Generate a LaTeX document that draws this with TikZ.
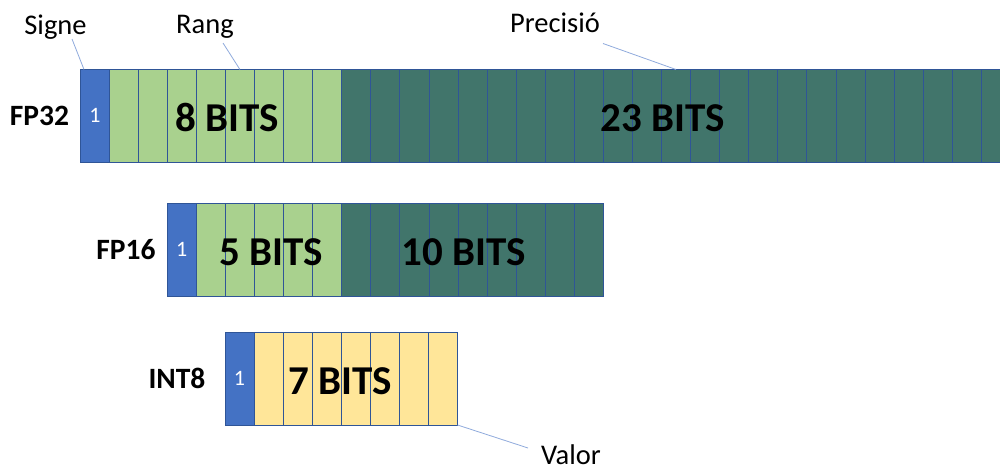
\documentclass[tikz,border=0pt]{standalone}
\usepackage{fontspec}
\setmainfont{Carlito}
\usetikzlibrary{calc}

\definecolor{signblue}{HTML}{4472C4}
\definecolor{expgreen}{HTML}{A9D18E}
\definecolor{mantteal}{HTML}{41756B}
\definecolor{intyellow}{HTML}{FFE699}
\definecolor{cellline}{HTML}{2F5597}
\definecolor{leadercol}{HTML}{8FAADC}

\begin{document}
\begin{tikzpicture}[x=1pt,y=-1pt,
  cell/.style={draw=cellline, line width=0.7pt, minimum width=29.07pt,
    minimum height=93pt, inner sep=0pt, outer sep=0pt, anchor=north west},
  signcell/.style={cell, fill=signblue},
  expcell/.style={cell, fill=expgreen},
  mantcell/.style={cell, fill=mantteal},
  intcell/.style={cell, fill=intyellow},
  signdigit/.style={text=white, anchor=base, inner sep=0pt, font=\fontsize{22}{22}\selectfont},
  rowlabel/.style={anchor=base, inner sep=0pt, font=\bfseries\fontsize{29.5}{30}\selectfont},
  bitslabel/.style={anchor=base, inner sep=0pt, font=\bfseries\fontsize{41}{41}\selectfont},
  partlabel/.style={anchor=base, inner sep=0pt, font=\fontsize{28.5}{29}\selectfont},
  leaderline/.style={draw=leadercol, line width=0.8pt}]

\useasboundingbox (0,0) rectangle (1000,473);
\clip (0,0) rectangle (1000,473);

% ---- FP32: 1 sign, 8 exponent, 23 mantissa bits
\node[signcell] (s32) at (80,69.5) {};
\foreach \i in {1,...,8}
  \node[expcell] (e32-\i) at ({109.1+(\i-1)*29.07},69.5) {};
\foreach \i in {1,...,23}
  \node[mantcell] (m32-\i) at ({341.7+(\i-1)*29.07},69.5) {};

% ---- FP16: 1 sign, 5 exponent, mantissa cells
\node[signcell] (s16) at (167.3,203) {};
\foreach \i in {1,...,5}
  \node[expcell] (e16-\i) at ({196.35+(\i-1)*29.07},203) {};
\foreach \i in {1,...,9}
  \node[mantcell] (m16-\i) at ({341.7+(\i-1)*29.07},203) {};

% ---- INT8: 1 sign, 7 value bits
\node[signcell] (s8) at (225,332) {};
\foreach \i in {1,...,7}
  \node[intcell] (v8-\i) at ({254.07+(\i-1)*29.07},332) {};

% ---- sign digits
\node[signdigit] (one32) at (95,123) {1};
\node[signdigit] (one16) at (181.8,256.5) {1};
\node[signdigit] (one8) at (239.5,385.5) {1};

% ---- row names
\node[rowlabel] (lfp32) at (39.5,126) {FP32};
\node[rowlabel] (lfp16) at (126,259.5) {FP16};
\node[rowlabel] (lint8) at (177,388.5) {INT8};

% ---- bit counts
\node[bitslabel] (b8) at (227.5,132) {8 BITS};
\node[bitslabel] (b23) at (662.5,132) {23 BITS};
\node[bitslabel] (b5) at (271.5,265.5) {5 BITS};
\node[bitslabel] (b10) at (464,265.5) {10 BITS};
\node[bitslabel] (b7) at (340,394.5) {7 BITS};

% ---- part names with leader lines
\node[partlabel] (signe) at (55.5,35) {Signe};
\node[partlabel] (rang) at (205,34) {Rang};
\node[partlabel] (precisio) at (555,33) {Precisió};
\node[partlabel] (valor) at (571,464) {Valor};

\coordinate (signe-end) at (72,39);
\coordinate (rang-end) at (223,43);
\coordinate (precisio-end) at (603,43.5);
\coordinate (valor-end) at (528,448);

\draw[leaderline] (signe-end) -- ($(s32.north west)+(4,0)$);
\draw[leaderline] (rang-end) -- (e32-5.north);
\draw[leaderline] (precisio-end) -- (m32-12.north);
\draw[leaderline] (valor-end) -- (v8-7.south east);

\end{tikzpicture}
\end{document}
